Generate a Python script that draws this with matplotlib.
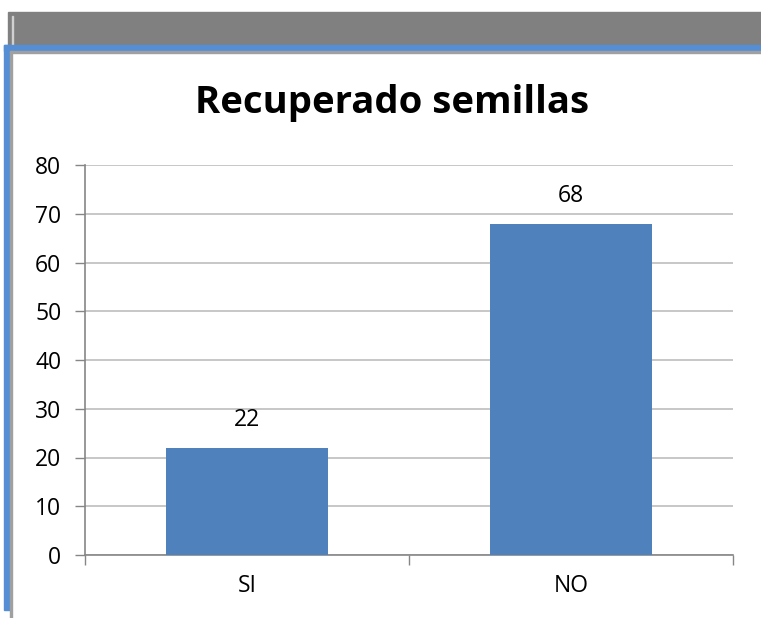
import matplotlib
matplotlib.use("Agg")
import matplotlib.pyplot as plt
from matplotlib.patches import Rectangle

categories = ["SI", "NO"]
values = [22, 68]
yticks = [0, 10, 20, 30, 40, 50, 60, 70, 80]

W, H = 761, 618
fig = plt.figure(figsize=(W / 100, H / 100), dpi=100)
fig.patch.set_facecolor("white")
plt.rcParams["font.family"] = ["Open Sans", "DejaVu Sans"]

def px(x0, y0, x1, y1, color):
    # rectangle in pixel coords (top-left origin)
    fig.patches.append(Rectangle((x0 / W, 1 - y1 / H), (x1 - x0) / W, (y1 - y0) / H,
                                 transform=fig.transFigure, color=color, zorder=0))

# window frame bits around the chart
px(8, 12, 761, 46, "#808080")
px(12, 16, 13, 45, "#d0d0d0")
px(4, 45, 761, 51, "#558ed5")
px(4, 45, 10, 610, "#558ed5")
px(10, 51, 761, 53, "#a0a0a0")
px(10, 51, 12, 618, "#a0a0a0")

ax = fig.add_axes([85 / W, 1 - 555 / H, (733 - 85) / W, (555 - 165) / H])
x = range(len(categories))
bars = ax.bar(x, values, width=0.5, color="#4f81bd", zorder=3)
ax.set_xlim(-0.5, 1.5)
ax.set_ylim(0, 80)
ax.set_yticks(yticks)
ax.set_xticks([-0.5, 0.5, 1.5], minor=False)
ax.set_xticklabels(["", "", ""])
ax.set_xticks(list(x), minor=True)
ax.set_xticklabels(categories, minor=True)
ax.tick_params(axis="x", which="minor", length=0, pad=14, labelsize=16.5, colors="black")
ax.tick_params(axis="x", which="major", length=7, color="#868686", width=1)
ax.tick_params(axis="y", length=7, color="#868686", width=1, labelsize=16.5, pad=10)
ax.grid(axis="y", color="#bdbdbd", linewidth=1.2, zorder=0)
for s in ["top", "right"]:
    ax.spines[s].set_visible(False)
for s in ["left", "bottom"]:
    ax.spines[s].set_color("#868686")
    ax.spines[s].set_linewidth(1.2)

for b, v in zip(bars, values):
    ax.annotate(str(v), (b.get_x() + b.get_width() / 2, v), xytext=(0, 11),
                textcoords="offset points", ha="center", va="bottom", fontsize=16.5)

fig.text(392 / W, 1 - 103 / H, "Recuperado semillas", ha="center", va="center",
         fontsize=27.5, fontweight="bold")

fig.savefig("out.png", dpi=100)
